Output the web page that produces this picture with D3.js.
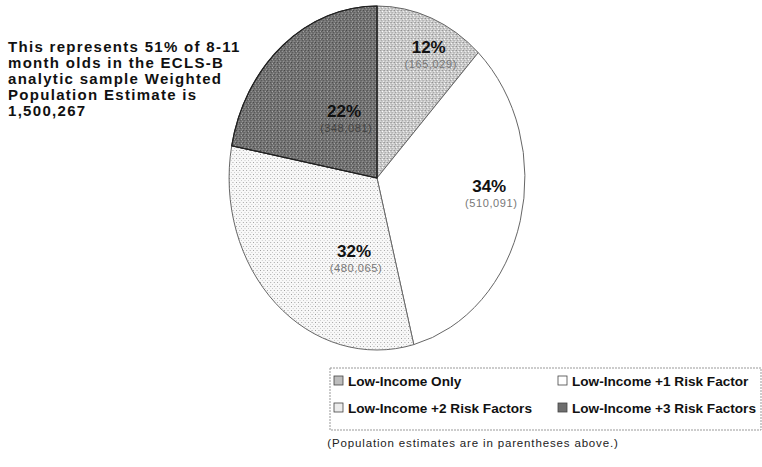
<!DOCTYPE html>
<html><head><meta charset="utf-8">
<script src="https://cdn.jsdelivr.net/npm/d3@7"></script>
<style>
html,body{margin:0;padding:0;background:#fff;}
svg{display:block;font-family:Arial,"Liberation Sans",sans-serif;}
</style></head>
<body>
<svg id="chart" width="762" height="467"></svg>
<script>
const categories = ["Low-Income Only","Low-Income +1 Risk Factor","Low-Income +2 Risk Factors","Low-Income +3 Risk Factors"];
const percents = [12, 34, 32, 22];
const populations = ["165,029","510,091","480,065","348,081"];
const noteLines = ["This represents 51% of 8-11","month olds in the ECLS-B","analytic sample Weighted","Population Estimate is","1,500,267"];
const footnote = "(Population estimates are in parentheses above.)";

const svg = d3.select("#chart");
const defs = svg.append("defs");
function pattern(id, bg, dots, size){
  const p = defs.append("pattern").attr("id",id).attr("patternUnits","userSpaceOnUse")
    .attr("width",size).attr("height",size);
  p.append("rect").attr("width",size).attr("height",size).attr("fill",bg);
  dots.forEach(d=>p.append("rect").attr("x",d[0]).attr("y",d[1]).attr("width",1).attr("height",1).attr("fill",d[2]));
}
pattern("p0","#c9c9c9",[[0,0,"#8e8e8e"],[2,1,"#ffffff"],[1,2,"#a0a0a0"],[3,3,"#eeeeee"],[3,0,"#b0b0b0"]],4);
pattern("p1","#ffffff",[],4);
pattern("p2","#f8f8f8",[[0,0,"#9a9a9a"],[2,2,"#c8c8c8"]],4);
pattern("p3","#737373",[[0,0,"#444444"],[2,1,"#aaaaaa"],[1,2,"#555555"],[3,3,"#9a9a9a"],[3,1,"#5a5a5a"]],4);
const fills = ["url(#p0)","url(#p1)","url(#p2)","url(#p3)"];
const swatchFills = ["#bdbdbd","#ffffff","#ececec","#6e6e6e"];

const cx = 377, cy = 178, R = 172, sx = 0.86;
const pie = d3.pie().sort(null).value(d=>d)(percents);
const arc = d3.arc().innerRadius(0).outerRadius(R);
const g = svg.append("g").attr("transform",`translate(${cx},${cy}) scale(${sx},1)`);
g.selectAll("path.slice").data(pie).join("path").attr("class","slice")
  .attr("d",arc).attr("fill",(d,i)=>fills[i])
  .attr("stroke",(d,i)=>i===3?"#222":"#666").attr("stroke-width",1).attr("vector-effect","non-scaling-stroke");
g.append("path").datum(pie[3]).attr("d",arc).attr("fill","none").attr("stroke","#222")
  .attr("stroke-width",1.2).attr("vector-effect","non-scaling-stroke");

// label placement: [radius fraction, angular shift in degrees]
const labelPlace = [[0.84,3],[0.76,-11],[0.45,-23],[0.45,10]];
const lg = svg.append("g").attr("transform",`translate(${cx},${cy})`);
pie.forEach((d,i)=>{
  const a = (d.startAngle+d.endAngle)/2 + labelPlace[i][1]*Math.PI/180;
  const r = R*labelPlace[i][0];
  const x = Math.sin(a)*r*sx, y = -Math.cos(a)*r;
  lg.append("text").attr("x",x).attr("y",y+6).attr("text-anchor","middle")
    .attr("font-size",17).attr("font-weight","bold").attr("fill","#111").text(percents[i]+"%");
  lg.append("text").attr("x",x+2).attr("y",y+21).attr("text-anchor","middle")
    .attr("font-size",11).attr("fill",i===3?"#444":"#777").attr("letter-spacing",0.6).text("("+populations[i]+")");
});

svg.append("g").selectAll("text").data(noteLines).join("text")
  .attr("x",8).attr("y",(d,i)=>52+i*16).attr("font-size",15).attr("font-weight","bold")
  .attr("letter-spacing",1.3).attr("fill","#111").text(d=>d);

const leg = svg.append("g");
leg.append("rect").attr("x",330).attr("y",368).attr("width",431).attr("height",62)
  .attr("fill","none").attr("stroke","#999").attr("stroke-dasharray","2,1");
const colX = [334, 558], rowY = [381, 408];
categories.forEach((c,i)=>{
  const x = colX[i%2], y = rowY[Math.floor(i/2)];
  leg.append("rect").attr("x",x).attr("y",y-5).attr("width",9).attr("height",9)
    .attr("fill",swatchFills[i]).attr("stroke","#444").attr("stroke-width",0.8);
  leg.append("text").attr("x",x+14).attr("y",y+5).attr("font-size",13.6).attr("font-weight","bold")
    .attr("fill","#111").text(c);
});
svg.append("text").attr("x",473).attr("y",447).attr("text-anchor","middle")
  .attr("font-size",11.5).attr("letter-spacing",0.85).attr("fill","#222").text(footnote);
</script>
</body></html>
